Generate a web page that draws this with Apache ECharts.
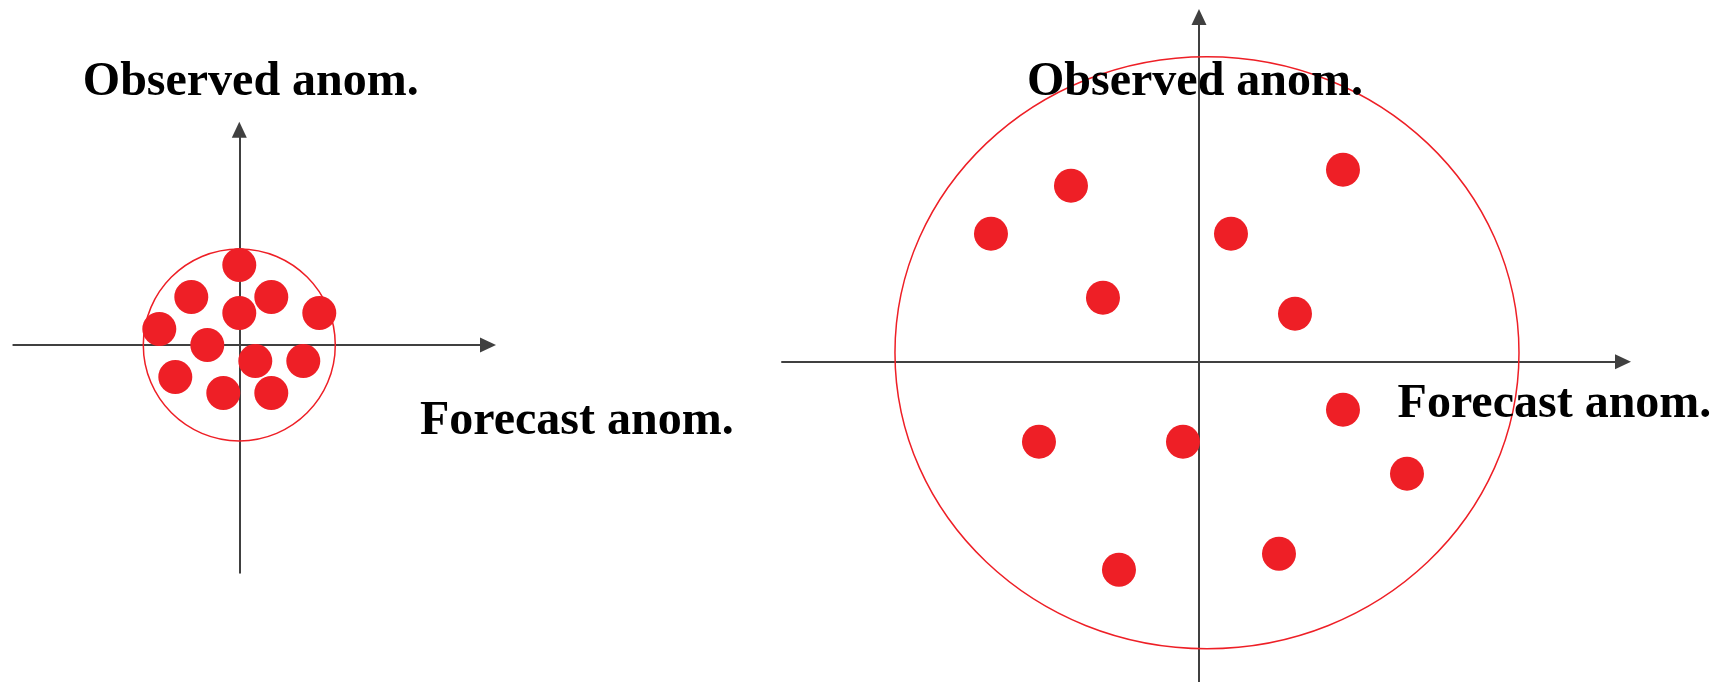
<!DOCTYPE html>
<html>
<head>
<meta charset="utf-8">
<script src="https://cdn.jsdelivr.net/npm/echarts@6/dist/echarts.min.js"></script>
<style>
html, body { margin: 0; padding: 0; background: #fff; }
#chart { width: 1727px; height: 682px; }
</style>
</head>
<body>
<div id="chart"></div>
<script>
// 数据：单位为格（两个图同一尺度）
// 左图：预报与观测偏差集中，圆小
var smallDots = [
	[0, 5], [-3, 3], [2, 3], [0, 2], [5, 2], [-5, 1],
	[-2, 0], [1, -1], [4, -1], [-4, -2], [-1, -3], [2, -3]
];
var smallCircle = [[0, 0, 6, 6]]; // cx, cy, rx, ry

// 右图：偏差分散，圆大
var bigDots = [
	[9, 12], [-8, 11], [-13, 8], [2, 8], [-6, 4], [6, 3],
	[9, -3], [-10, -5], [-1, -5], [13, -7], [5, -12], [-5, -13]
];
var bigCircle = [[0.5, 0.56, 19.5, 18.5]];

var xName = 'Forecast anom.';
var yName = 'Observed anom.';

var axisColor = '#404040';
var red = '#ee1f26';
var labelFont = 'bold 48px "Liberation Serif", "Times New Roman", serif';

function makeAxis(min, max, idx) {
	return {
		type: 'value',
		gridIndex: idx,
		min: min,
		max: max,
		axisLine: {
			show: true,
			onZero: true,
			symbol: ['none', 'triangle'],
			symbolSize: [15, 16],
			lineStyle: { color: axisColor, width: 2 }
		},
		axisTick: { show: false },
		axisLabel: { show: false },
		splitLine: { show: false }
	};
}

function ellipseItem(params, api) { //用坐标轴换算椭圆中心和半径
	var c = api.coord([api.value(0), api.value(1)]);
	var s = api.size([api.value(2), api.value(3)]);
	return {
		type: 'ellipse',
		shape: { cx: c[0], cy: c[1], rx: s[0], ry: s[1] },
		style: { fill: 'none', stroke: red, lineWidth: 1.5 }
	};
}

function textItem(str, x, y) {
	return {
		type: 'text',
		x: x,
		y: y,
		style: {
			text: str,
			font: labelFont,
			fill: '#000',
			textVerticalAlign: 'middle'
		},
		z: 100
	};
}

var myChart = echarts.init(document.getElementById('chart'));
var option = {
	animation: false,
	grid: [
		{ left: 13.3, top: 129.7, width: 474.7, height: 443.1 },
		{ left: 782, top: 17, width: 841, height: 665 }
	],
	xAxis: [
		makeAxis(-14.125, 15.545, 0),
		makeAxis(-26.06, 26.5, 1)
	],
	yAxis: [
		makeAxis(-14.24, 13.454, 0),
		makeAxis(-20.02, 21.54, 1)
	],
	series: [
		{
			type: 'custom',
			xAxisIndex: 0, yAxisIndex: 0,
			renderItem: ellipseItem,
			data: smallCircle,
			z: 3
		},
		{
			type: 'scatter',
			xAxisIndex: 0, yAxisIndex: 0,
			symbolSize: 34,
			itemStyle: { color: red, opacity: 1 },
			data: smallDots,
			z: 4
		},
		{
			type: 'custom',
			xAxisIndex: 1, yAxisIndex: 1,
			renderItem: ellipseItem,
			data: bigCircle,
			z: 3
		},
		{
			type: 'scatter',
			xAxisIndex: 1, yAxisIndex: 1,
			symbolSize: 34,
			itemStyle: { color: red, opacity: 1 },
			data: bigDots,
			z: 4
		}
	],
	graphic: [
		textItem(yName, 82.8, 82.4),
		textItem(xName, 420, 422),
		textItem(yName, 1027, 82.4),
		textItem(xName, 1397.6, 404.8)
	]
};
myChart.setOption(option);
</script>
</body>
</html>
